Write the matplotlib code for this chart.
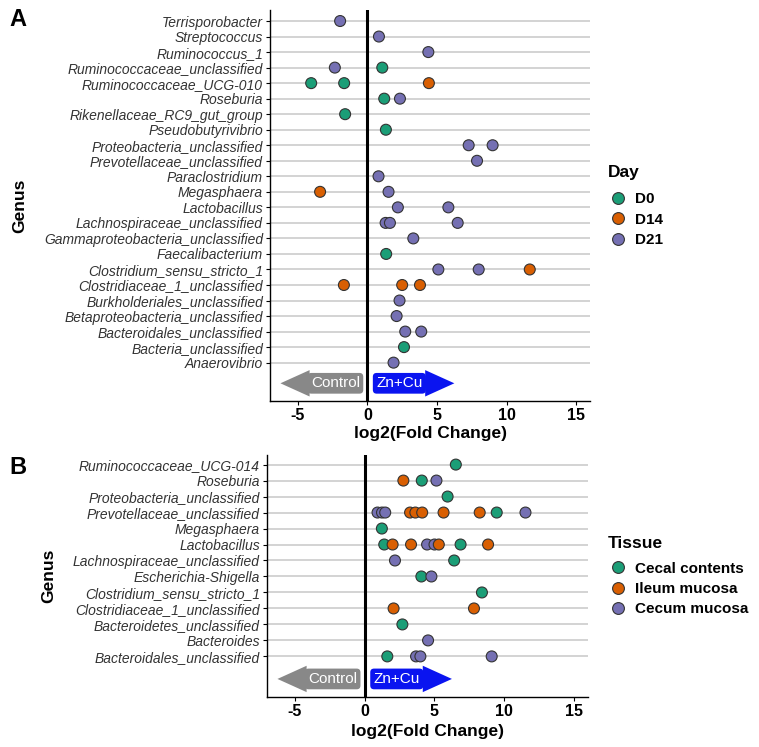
import matplotlib
matplotlib.use("Agg")
import matplotlib.pyplot as plt
from matplotlib.lines import Line2D
from matplotlib.patches import FancyArrowPatch

plt.rcParams['font.family'] = ['Liberation Sans', 'DejaVu Sans']
plt.rcParams['axes.unicode_minus'] = False

# ---- panel A: by day ----
genus_a = ["Terrisporobacter", "Streptococcus", "Ruminococcus_1",
           "Ruminococcaceae_unclassified", "Ruminococcaceae_UCG-010", "Roseburia",
           "Rikenellaceae_RC9_gut_group", "Pseudobutyrivibrio",
           "Proteobacteria_unclassified", "Prevotellaceae_unclassified",
           "Paraclostridium", "Megasphaera", "Lactobacillus",
           "Lachnospiraceae_unclassified", "Gammaproteobacteria_unclassified",
           "Faecalibacterium", "Clostridium_sensu_stricto_1",
           "Clostridiaceae_1_unclassified", "Burkholderiales_unclassified",
           "Betaproteobacteria_unclassified", "Bacteroidales_unclassified",
           "Bacteria_unclassified", "Anaerovibrio"]

a_genus = ["Terrisporobacter", "Streptococcus", "Ruminococcus_1",
           "Ruminococcaceae_unclassified", "Ruminococcaceae_unclassified",
           "Ruminococcaceae_UCG-010", "Ruminococcaceae_UCG-010", "Ruminococcaceae_UCG-010",
           "Roseburia", "Roseburia", "Rikenellaceae_RC9_gut_group", "Pseudobutyrivibrio",
           "Proteobacteria_unclassified", "Proteobacteria_unclassified",
           "Prevotellaceae_unclassified", "Paraclostridium", "Megasphaera", "Megasphaera",
           "Lactobacillus", "Lactobacillus",
           "Lachnospiraceae_unclassified", "Lachnospiraceae_unclassified",
           "Lachnospiraceae_unclassified", "Gammaproteobacteria_unclassified",
           "Faecalibacterium", "Clostridium_sensu_stricto_1",
           "Clostridium_sensu_stricto_1", "Clostridium_sensu_stricto_1",
           "Clostridiaceae_1_unclassified", "Clostridiaceae_1_unclassified",
           "Clostridiaceae_1_unclassified", "Burkholderiales_unclassified",
           "Betaproteobacteria_unclassified", "Bacteroidales_unclassified",
           "Bacteroidales_unclassified", "Bacteria_unclassified", "Anaerovibrio"]
a_lfc = [-1.96, 0.83, 4.38,
         -2.34, 1.07,
         -4.04, -1.67, 4.42,
         1.21, 2.34, -1.60, 1.33,
         7.28, 9.00,
         7.88, 0.80, -3.40, 1.52,
         2.19, 5.82,
         1.31, 1.62, 6.49, 3.30,
         1.35, 5.10, 8.00, 11.67,
         -1.69, 2.50, 3.78, 2.31,
         2.10, 2.72, 3.87, 2.63, 1.88]
a_day = ["D21", "D21", "D21",
         "D21", "D0",
         "D0", "D0", "D14",
         "D0", "D21", "D0", "D0",
         "D21", "D21",
         "D21", "D21", "D14", "D21",
         "D21", "D21",
         "D21", "D21", "D21", "D21",
         "D0", "D21", "D21", "D14",
         "D14", "D14", "D14", "D21",
         "D21", "D21", "D21", "D0", "D21"]
days = ["D0", "D14", "D21"]

# ---- panel B: by tissue ----
genus_b = ["Ruminococcaceae_UCG-014", "Roseburia", "Proteobacteria_unclassified",
           "Prevotellaceae_unclassified", "Megasphaera", "Lactobacillus",
           "Lachnospiraceae_unclassified", "Escherichia-Shigella",
           "Clostridium_sensu_stricto_1", "Clostridiaceae_1_unclassified",
           "Bacteroidetes_unclassified", "Bacteroides", "Bacteroidales_unclassified"]

b_genus = ["Ruminococcaceae_UCG-014",
           "Roseburia", "Roseburia", "Roseburia",
           "Proteobacteria_unclassified"] + ["Prevotellaceae_unclassified"] * 10 + \
          ["Megasphaera"] + ["Lactobacillus"] * 8 + \
          ["Lachnospiraceae_unclassified"] * 2 + ["Escherichia-Shigella"] * 2 + \
          ["Clostridium_sensu_stricto_1"] + ["Clostridiaceae_1_unclassified"] * 2 + \
          ["Bacteroidetes_unclassified", "Bacteroides"] + ["Bacteroidales_unclassified"] * 4
b_lfc = [6.53,
         2.77, 4.09, 5.14,
         5.94,
         0.92, 1.24, 1.47, 3.25, 3.63, 4.12, 5.65, 8.24, 9.46, 11.52,
         1.23,
         1.40, 2.00, 3.32, 4.47, 5.00, 5.31, 6.87, 8.84,
         2.17, 6.41,
         4.06, 4.78,
         8.40,
         2.07, 7.83,
         2.70, 4.54,
         1.62, 3.68, 3.99, 9.10]
b_tissue = ["Cecal contents",
            "Ileum mucosa", "Cecal contents", "Cecum mucosa",
            "Cecal contents",
            "Cecum mucosa", "Cecum mucosa", "Cecum mucosa", "Ileum mucosa", "Ileum mucosa",
            "Ileum mucosa", "Ileum mucosa", "Ileum mucosa", "Cecal contents", "Cecum mucosa",
            "Cecal contents",
            "Cecal contents", "Ileum mucosa", "Ileum mucosa", "Cecum mucosa", "Cecum mucosa",
            "Ileum mucosa", "Cecal contents", "Ileum mucosa",
            "Cecum mucosa", "Cecal contents",
            "Cecal contents", "Cecum mucosa",
            "Cecal contents",
            "Ileum mucosa", "Ileum mucosa",
            "Cecal contents", "Cecum mucosa",
            "Cecal contents", "Cecum mucosa", "Cecum mucosa", "Cecum mucosa"]
tissues = ["Cecal contents", "Ileum mucosa", "Cecum mucosa"]

palette = ["#1b9e77", "#d95f02", "#7570b3"]
xticks = [-5, 0, 5, 10, 15]


def draw_panel(ax, genus, pt_genus, pt_lfc, pt_group, groups, ylim, arrow_y):
    n = len(genus)
    ypos = {g: n - i for i, g in enumerate(genus)}
    for y in ypos.values():
        ax.axhline(y, color="#cccccc", lw=1.2, zorder=1)
    ax.axvline(0, color="black", lw=2.2, zorder=2)
    cmap = dict(zip(groups, palette))
    ax.scatter(pt_lfc, [ypos[g] for g in pt_genus], s=62,
               c=[cmap[g] for g in pt_group], edgecolors="#333333",
               linewidths=0.8, zorder=3)

    ax.set_xlim(-7, 16)
    ax.set_ylim(*ylim)
    ax.set_xticks(xticks)
    ax.set_yticks(list(ypos.values()))
    ax.set_yticklabels(genus, style="italic", fontsize=10, color="#333333")
    for lab in ax.get_xticklabels():
        lab.set_fontweight("bold")
    ax.tick_params(axis="x", labelsize=11.5, length=3, pad=2, colors="black")
    ax.tick_params(axis="y", length=3, pad=2)
    for side in ["top", "right"]:
        ax.spines[side].set_visible(False)
    ax.spines["left"].set_linewidth(1.0)
    ax.spines["bottom"].set_linewidth(1.0)

    # direction arrows with labels
    style = "simple,head_length=1.05,head_width=0.95,tail_width=0.32"
    ax.add_patch(FancyArrowPatch((-0.5, arrow_y), (-6.45, arrow_y), arrowstyle=style,
                                 mutation_scale=20, color="#888888", lw=0, zorder=3))
    ax.add_patch(FancyArrowPatch((0.5, arrow_y), (6.45, arrow_y), arrowstyle=style,
                                 mutation_scale=20, color="#0a14f0", lw=0, zorder=3))
    ax.text(-2.3, arrow_y, "Control", color="white", fontsize=11, ha="center",
            va="center", zorder=4,
            bbox=dict(boxstyle="round,pad=0.22,rounding_size=0.25", fc="#888888", ec="none"))
    ax.text(2.3, arrow_y, "Zn+Cu", color="white", fontsize=11, ha="center",
            va="center", zorder=4,
            bbox=dict(boxstyle="round,pad=0.22,rounding_size=0.25", fc="#0a14f0", ec="none"))
    ax.set_xlabel("log2(Fold Change)", fontsize=12.5, fontweight="bold")
    ax.set_ylabel("Genus", fontsize=12.5, fontweight="bold")


W, H = 759, 747
fig = plt.figure(figsize=(W / 100, H / 100), dpi=100)

ax_a = fig.add_axes([270 / W, (H - 401) / H, 320 / W, 391 / H])
draw_panel(ax_a, genus_a, a_genus, a_lfc, a_day, days, (-1.47, 23.71), -0.33)
ax_a.xaxis.set_label_coords(0.5, -0.064)
ax_a.yaxis.set_label_coords((27 - 270) / 320, 0.5)

ax_b = fig.add_axes([267 / W, (H - 697) / H, 321 / W, 242 / H])
draw_panel(ax_b, genus_b, b_genus, b_lfc, b_tissue, tissues, (-1.54, 13.6), -0.41)
ax_b.xaxis.set_label_coords(0.5, -0.112)
ax_b.yaxis.set_label_coords((56 - 267) / 321, 0.5)


def add_legend(title, groups, title_y, center_y):
    fig.text(608 / W, 1 - title_y / H, title, fontsize=12.5, fontweight="bold",
             ha="left", va="center")
    handles = [Line2D([], [], marker="o", ls="none", markersize=8.5,
                      markerfacecolor=c, markeredgecolor="#333333", markeredgewidth=0.8)
               for c in palette]
    fig.legend(handles, groups, loc="center left",
               bbox_to_anchor=(603 / W, 1 - center_y / H), frameon=False,
               borderpad=0, handlelength=1.0, handletextpad=0.6,
               labelspacing=0.42, prop=dict(size=11, weight="bold"))


add_legend("Day", days, 173, 219.5)
add_legend("Tissue", tissues, 543, 589)

fig.text(18 / W, 1 - 20 / H, "A", fontsize=17, fontweight="bold", ha="center", va="center")
fig.text(18 / W, 1 - 467 / H, "B", fontsize=17, fontweight="bold", ha="center", va="center")

fig.savefig("out.png", dpi=100)
